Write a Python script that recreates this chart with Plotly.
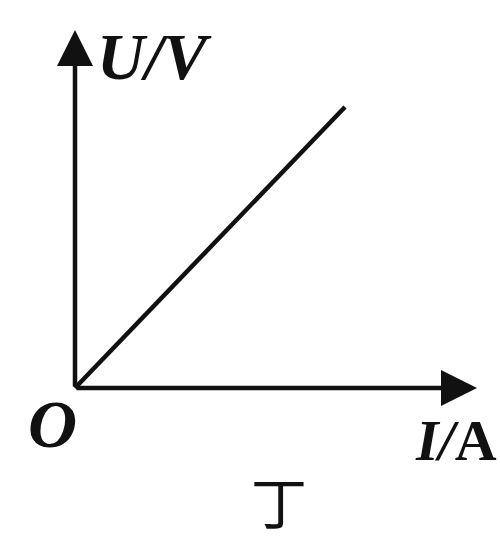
import plotly.graph_objects as go

# Values (pixel-like units, origin at O)
I_vals = [0, 270]
U_vals = [0, 281]
x_axis_end = 402
y_axis_end = 358

fig = go.Figure()
fig.add_trace(go.Scatter(x=I_vals, y=U_vals, mode="lines",
                         line=dict(color="#111111", width=4.5),
                         hoverinfo="skip", showlegend=False))

ink = "#111111"
serif = "Liberation Serif, Times New Roman, serif"

# axes with arrows
fig.add_annotation(x=x_axis_end, y=0, ax=0, ay=0, xref="x", yref="y", axref="x", ayref="y",
                   text="", showarrow=True, arrowhead=2, arrowsize=1.6, arrowwidth=4.5, arrowcolor=ink)
fig.add_annotation(x=0, y=y_axis_end, ax=0, ay=0, xref="x", yref="y", axref="x", ayref="y",
                   text="", showarrow=True, arrowhead=2, arrowsize=1.6, arrowwidth=4.5, arrowcolor=ink)

fig.add_annotation(x=79, y=332, xref="x", yref="y", text="<b><i>U/V</i></b>", showarrow=False,
                   font=dict(family=serif, size=66, color=ink))
fig.add_annotation(x=-23, y=-36, xref="x", yref="y", text="<b><i>O</i></b>", showarrow=False,
                   font=dict(family=serif, size=68, color=ink))
fig.add_annotation(x=381, y=-52, xref="x", yref="y", text="<b><i>I/</i>A</b>", showarrow=False,
                   font=dict(family=serif, size=58, color=ink))
fig.add_annotation(x=204, y=-111, xref="x", yref="y", text="丁", showarrow=False,
                   font=dict(family="Noto Sans CJK SC", size=56, color=ink))

fig.update_layout(width=500, height=540, margin=dict(l=0, r=0, t=0, b=0),
                  paper_bgcolor="white", plot_bgcolor="white",
                  xaxis=dict(range=[-75, 425], visible=False, fixedrange=True),
                  yaxis=dict(range=[-152, 388], visible=False, fixedrange=True))
fig.write_html("out.html", config={"displayModeBar": False},
               post_script="document.body.style.margin='0';document.body.style.overflow='hidden';")
